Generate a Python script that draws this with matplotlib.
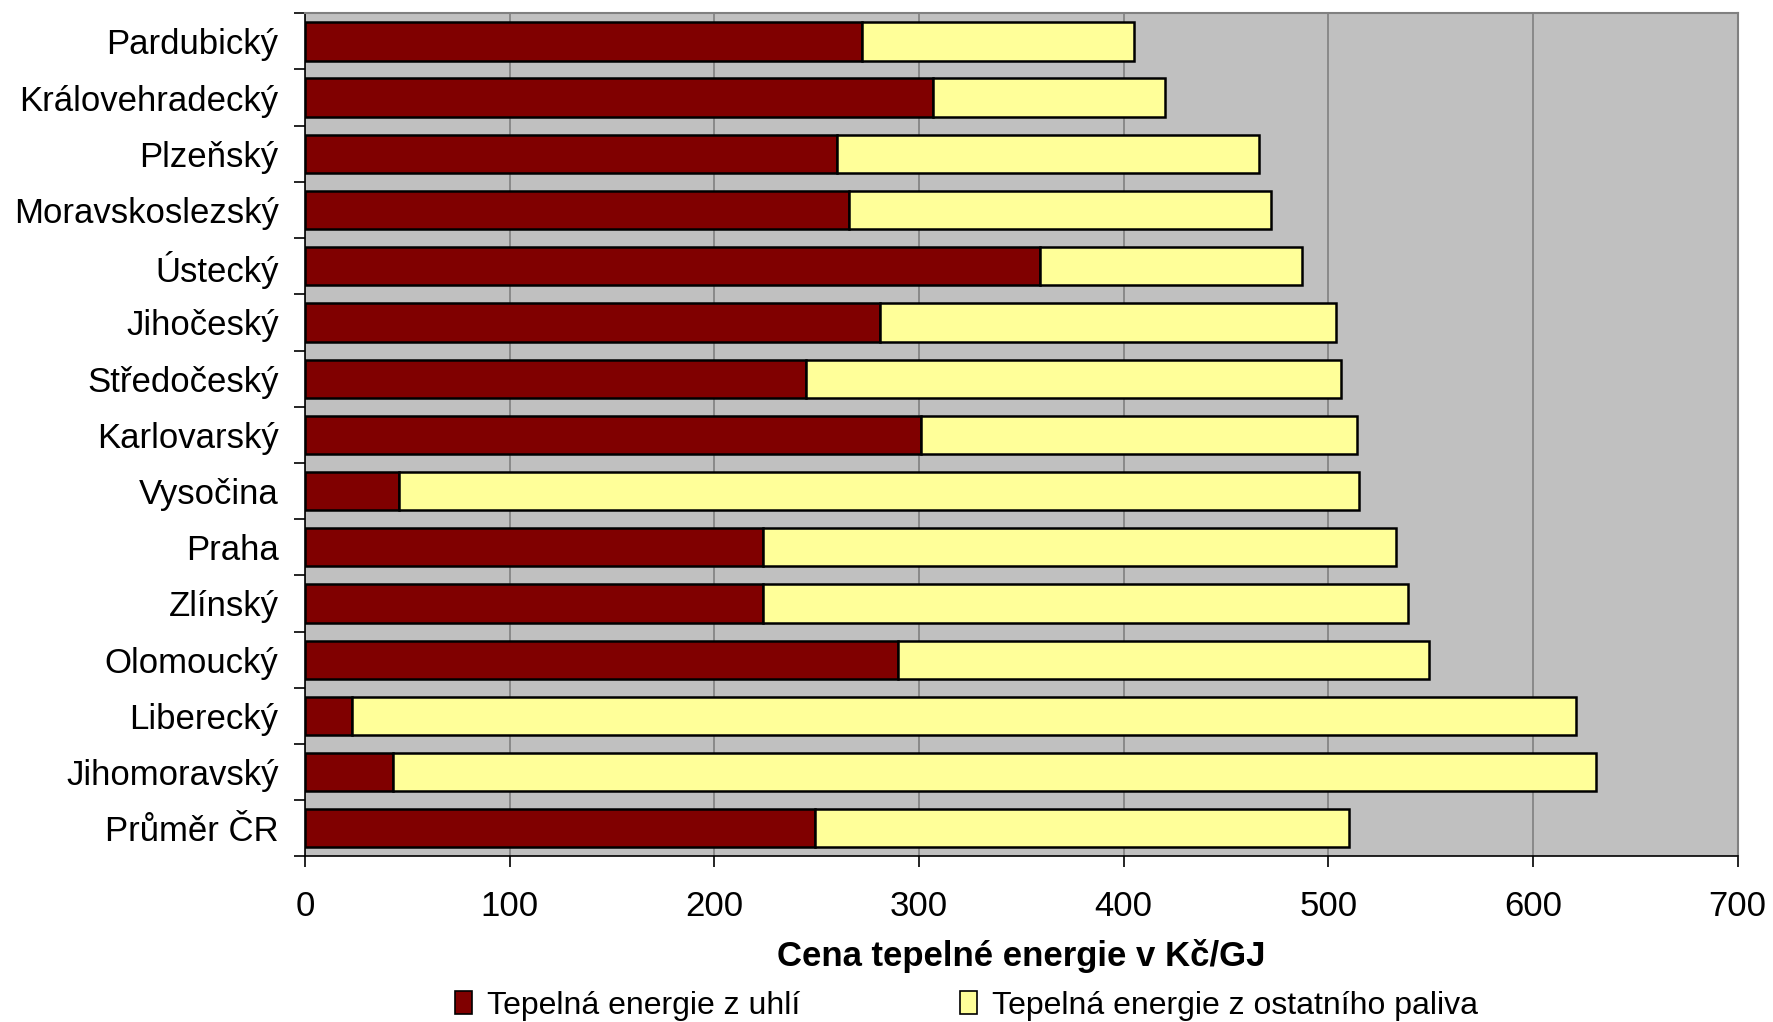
import matplotlib
matplotlib.use("Agg")
import matplotlib.pyplot as plt
import numpy as np
from matplotlib.patches import Patch

plt.rcParams['font.family'] = ['Liberation Sans', 'DejaVu Sans']

categories = ["Pardubický", "Královehradecký", "Plzeňský", "Moravskoslezský", "Ústecký",
              "Jihočeský", "Středočeský", "Karlovarský", "Vysočina", "Praha", "Zlínský",
              "Olomoucký", "Liberecký", "Jihomoravský", "Průměr ČR"]
coal = [272, 307, 260, 266, 359, 281, 245, 301, 46, 224, 224, 290, 23, 43, 249]
total = [405, 420, 466, 472, 487, 504, 506, 514, 515, 533, 539, 549, 621, 631, 510]
other = [t - c for t, c in zip(total, coal)]
xticks = [0, 100, 200, 300, 400, 500, 600, 700]
series_names = ["Tepelná energie z uhlí", "Tepelná energie z ostatního paliva"]
xlabel = "Cena tepelné energie v Kč/GJ"

fig = plt.figure(figsize=(17.73, 10.22), dpi=100)
ax = fig.add_axes([0.172, 0.162, 0.808, 0.825])
ax.set_facecolor('#C0C0C0')

y = np.arange(len(categories))
h = 0.68
ax.barh(y, coal, height=h, color='#800000', edgecolor='black', linewidth=1.8, zorder=3)
ax.barh(y, other, left=coal, height=h, color='#FFFF99', edgecolor='black', linewidth=1.8, zorder=3)

ax.set_xlim(0, 700)
ax.set_ylim(len(categories) - 0.5, -0.5)
ax.set_xticks(xticks)
ax.set_xticklabels([str(v) for v in xticks], fontsize=25)
ax.tick_params(axis='x', direction='out', length=8, width=1.2, pad=16)
ax.xaxis.grid(True, color='#808080', linewidth=1.2, zorder=0)
ax.set_axisbelow(True)

ax.set_yticks(np.arange(len(categories) + 1) - 0.5)
ax.set_yticklabels([])
ax.set_yticks(y, minor=True)
ax.set_yticklabels(categories, minor=True, fontsize=25)
ax.tick_params(axis='y', which='major', direction='out', length=8, width=1.2)
ax.tick_params(axis='y', which='minor', length=0, pad=19)

for s in ['left', 'bottom']:
    ax.spines[s].set_color('black')
    ax.spines[s].set_linewidth(1.2)
for s in ['top', 'right']:
    ax.spines[s].set_color('#808080')
    ax.spines[s].set_linewidth(1.5)

ax.set_xlabel(xlabel, fontsize=25, fontweight='bold', labelpad=12)

handles = [Patch(facecolor='#800000', edgecolor='black', linewidth=1.2),
           Patch(facecolor='#FFFF99', edgecolor='black', linewidth=1.2)]
fig.legend(handles, series_names, loc='lower center', bbox_to_anchor=(0.545, -0.027),
           ncol=2, frameon=False, fontsize=23, handlelength=0.55, handleheight=0.75,
           handletextpad=0.45, columnspacing=5.0)

fig.savefig("out.png", dpi=100)
